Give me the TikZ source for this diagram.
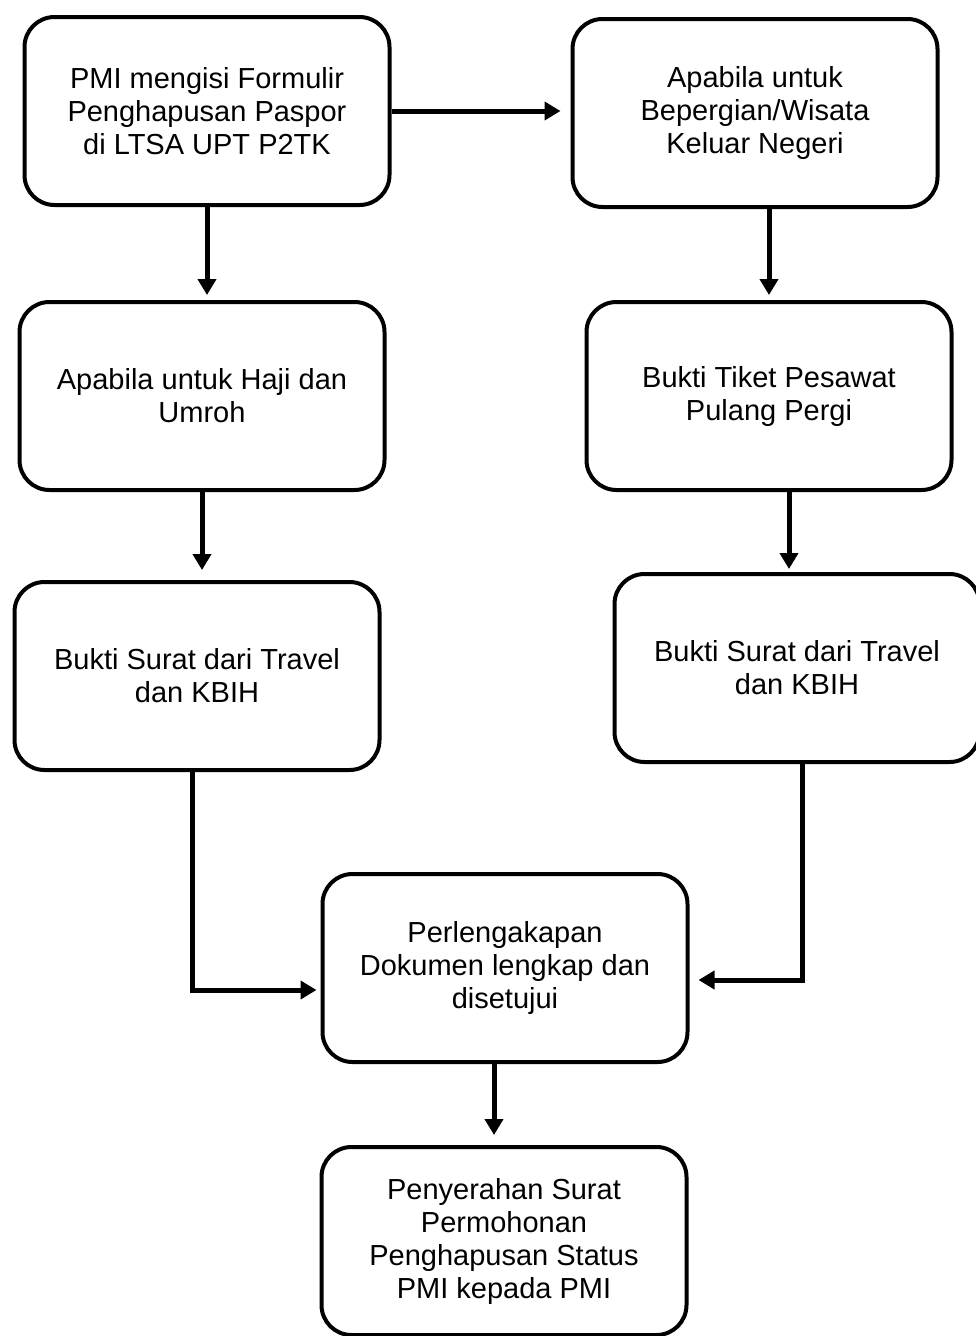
\documentclass[tikz,border=0pt]{standalone}
\usepackage{fontspec}
\setmainfont{Liberation Sans}
\usetikzlibrary{positioning,arrows.meta}

\begin{document}
\begin{tikzpicture}[x=1pt,y=-1pt,
    langkah/.style={draw, line width=4pt, rounded corners=30pt, minimum width=365pt,
      minimum height=188pt, inner sep=0pt, align=center,
      font=\fontsize{29pt}{33pt}\selectfont},
    panah/.style={line width=5pt, -{Triangle[length=16pt,width=18pt]}}]

          \useasboundingbox (0,0) rectangle (975,1336);

          % Define the nodes of the left path
          \node[langkah] (pmi) at (207,111) {PMI mengisi Formulir\\Penghapusan Paspor\\di LTSA UPT P2TK};
          \node[langkah] (haji) at (202,396) {Apabila untuk Haji dan\\Umroh};
          \node[langkah] (suratkiri) at (197,676) {Bukti Surat dari Travel\\dan KBIH};

          % Define the nodes of the right path
          \node[langkah] (wisata) at (755,113) {Apabila untuk\\Bepergian/Wisata\\Keluar Negeri};
          \node[langkah] (tiket) at (769,396) {Bukti Tiket Pesawat\\Pulang Pergi};
          \node[langkah] (suratkanan) at (797,668) {Bukti Surat dari Travel\\dan KBIH};

          % Define the nodes at the bottom
          \node[langkah] (lengkap) at (505,968) {Perlengakapan\\Dokumen lengkap dan\\disetujui};
          \node[langkah] (serah) at (504,1241) {Penyerahan Surat\\Permohonan\\Penghapusan Status\\PMI kepada PMI};

          % Draw the arrows between the nodes
          \draw[panah, shorten >=10pt] (pmi.east) -- (pmi.east -| wisata.west);
          \draw[panah, shorten >=5pt] (pmi.south) -- (pmi.south |- haji.north);
          \draw[panah, shorten >=5pt] (wisata.south -| tiket.north) -- (tiket.north);
          \draw[panah, shorten >=10pt] (haji.south) -- (haji.south |- suratkiri.north);
          \draw[panah, shorten >=3pt] ([xshift=20pt]tiket.south) -- ([xshift=20pt]tiket.south |- suratkanan.north);

          \draw[panah, shorten >=4pt] ([xshift=-5pt]suratkiri.south) |- ([yshift=-22pt]lengkap.west);
          \draw[panah, shorten >=9pt] ([xshift=5pt]suratkanan.south) |- ([yshift=-12pt]lengkap.east);
          \draw[panah, shorten >=10pt] ([xshift=-11pt]lengkap.south) -- ([xshift=-11pt]lengkap.south |- serah.north);

          \end{tikzpicture}
\end{document}
